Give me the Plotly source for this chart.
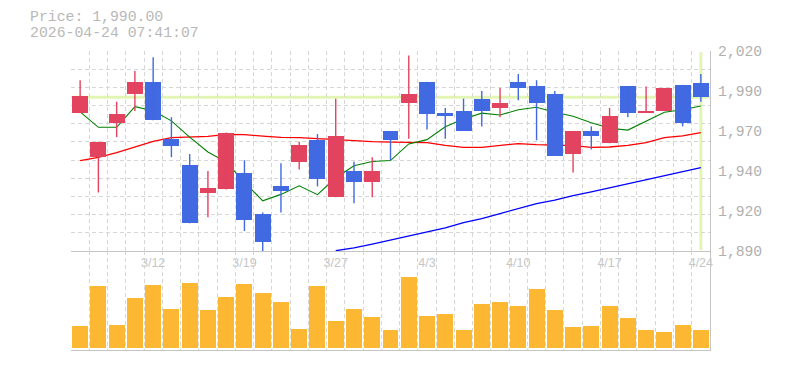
import plotly.graph_objects as go

# ---------------- data ----------------
dates = ["3/6", "3/9", "3/10", "3/11", "3/12", "3/13", "3/16", "3/17", "3/18", "3/19",
         "3/23", "3/24", "3/25", "3/26", "3/27", "3/30", "3/31", "4/1", "4/2", "4/3",
         "4/6", "4/7", "4/8", "4/9", "4/10", "4/13", "4/14", "4/15", "4/16", "4/17",
         "4/20", "4/21", "4/22", "4/23", "4/24"]
opens = [1980, 1951, 1973, 1992, 2000, 1963, 1946, 1928, 1930, 1941,
         1914, 1932, 1948, 1962, 1925, 1942, 1935, 1968, 1986, 2000,
         1980, 1981, 1989, 1983, 2000, 1997, 1992, 1953, 1968, 1960,
         1997, 1980, 1981, 1998, 1999]
highs = [2001, 1961, 1987, 2007, 2016, 1977, 1953, 1942, 1967, 1949,
         1915, 1947, 1961, 1966, 1989, 1948, 1951, 1968, 2017, 2000,
         1983, 1989, 1994, 1996, 2005, 2001, 1994, 1968, 1971, 1983,
         1997, 1997, 1996, 1998, 2005]
lows = [1980, 1928, 1964, 1981, 1975, 1951, 1908, 1912, 1930, 1903,
        1889, 1915, 1943, 1932, 1925, 1921, 1925, 1949, 1963, 1969,
        1963, 1968, 1971, 1977, 1988, 1962, 1952, 1941, 1956, 1960,
        1977, 1980, 1981, 1971, 1987]
closes = [1991, 1961, 1979, 2000, 1975, 1958, 1908, 1931, 1967, 1910,
          1896, 1929, 1959, 1937, 1965, 1935, 1942, 1962, 1992, 1979,
          1978, 1968, 1981, 1986, 1996, 1986, 1952, 1968, 1965, 1978,
          1980, 1981, 1996, 1973, 1990]
volumes = [6700, 18700, 7000, 15100, 19000, 11800, 19600, 11500, 15400, 19300,
           16600, 13900, 5800, 18700, 8200, 11800, 9400, 5500, 21400, 9700,
           10300, 5500, 13300, 13900, 12700, 17800, 11500, 6400, 6700, 12700,
           9100, 5500, 4900, 7000, 5500]
ma5 = [1980.4, 1970.4, 1970.4, 1983.8, 1981.2, 1974.6, 1964.0, 1954.4, 1947.8, 1934.8,
       1922.6, 1926.8, 1932.4, 1926.6, 1937.6, 1945.4, 1948.2, 1948.8, 1959.6, 1962.4,
       1970.8, 1975.8, 1979.6, 1978.4, 1981.8, 1983.4, 1980.2, 1977.6, 1973.4, 1969.8,
       1968.6, 1974.6, 1980.2, 1981.8, 1984.2]
ma25 = [1948.7, 1950.9, 1953.9, 1957.6, 1961.3, 1963.7, 1963.9, 1964.5, 1965.8, 1965.6,
        1964.7, 1963.9, 1963.7, 1963.0, 1962.2, 1961.7, 1961.1, 1960.8, 1960.8, 1960.4,
        1958.7, 1957.4, 1957.4, 1958.7, 1959.8, 1959.1, 1958.7, 1958.5, 1957.4, 1957.6,
        1958.7, 1960.4, 1963.7, 1964.8, 1966.9]
ma75 = [None, None, None, None, None, None, None, None, None, None,
        None, None, None, None, 1890.2, 1892.0, 1894.4, 1897.0, 1899.8, 1902.0,
        1905.0, 1908.5, 1911.0, 1914.3, 1917.5, 1920.8, 1923.0, 1926.0, 1928.4, 1931.0,
        1933.8, 1936.4, 1939.2, 1941.8, 1944.2]
label_dates = ["3/12", "3/19", "3/27", "4/3", "4/10", "4/17", "4/24"]
price_tick_vals = [1890, 1916, 1942, 1968, 1994, 2020]
price_tick_text = ["1,890", "1,920", "1,940", "1,970", "1,990", "2,020"]
header_price = "Price: 1,990.00"
header_time = "2026-04-24 07:41:07"
cursor_price = 1990
cursor_date = "4/24"

# ---------------- style ----------------
UP = "#e2435f"
DOWN = "#4169e1"
VOL = "#fdb833"
GRID = "#d6d6d6"
AXIS = "#c4c4c4"
CROSS = "#e3f5b3"
MONO = "Liberation Mono"
Y_MIN, Y_MAX = 1890, 2020
N = len(dates)
idx = list(range(N))
BODY_W = 0.875
PAGE_OFF = 8  # default body margin of the html page

fig = go.Figure()

# moving averages (main price subplot, below the candles)
fig.add_trace(go.Scatter(x=idx, y=ma75, mode="lines", line=dict(color="#0000ff", width=1.3),
                         xaxis="x", yaxis="y", hoverinfo="skip"))
fig.add_trace(go.Scatter(x=idx, y=ma25, mode="lines", line=dict(color="#ff0000", width=1.3),
                         xaxis="x", yaxis="y", hoverinfo="skip"))
fig.add_trace(go.Scatter(x=idx, y=ma5, mode="lines", line=dict(color="#008000", width=1.1),
                         xaxis="x", yaxis="y", hoverinfo="skip"))

# candles on an overlaying axis so they sit above the MA lines
up = [c >= o for o, c in zip(opens, closes)]
colors = [UP if u else DOWN for u in up]
fig.add_trace(go.Bar(x=idx, y=[abs(c - o) for o, c in zip(opens, closes)],
                     base=[min(o, c) for o, c in zip(opens, closes)],
                     width=BODY_W, marker=dict(color=colors, line=dict(width=0)),
                     xaxis="x", yaxis="y3", hoverinfo="skip"))
for flag, col in ((True, UP), (False, DOWN)):
    wx, wy = [], []
    for i in idx:
        if up[i] == flag:
            wx += [i, i, None]
            wy += [lows[i], highs[i], None]
    fig.add_trace(go.Scatter(x=wx, y=wy, mode="lines", line=dict(color=col, width=1.4),
                             xaxis="x", yaxis="y3", hoverinfo="skip"))

# volume
fig.add_trace(go.Bar(x=idx, y=volumes, width=BODY_W, marker=dict(color=VOL, line=dict(width=0)),
                     xaxis="x2", yaxis="y2", hoverinfo="skip"))

grid_x = [i - 0.5 for i in range(N + 1)]
grid_y = [Y_MIN + (Y_MAX - Y_MIN) * k / 11 for k in range(12)]
label_pos = [dates.index(d) for d in label_dates]
cursor_x = dates.index(cursor_date)

minor_x = dict(tickmode="array", tickvals=grid_x, showgrid=True, gridcolor=GRID,
               griddash="4px,3px", gridwidth=1, ticks="")
PRICE_DOM = [0.3311, 1]

fig.update_layout(
    width=785, height=370,
    margin=dict(l=71 - PAGE_OFF, r=75 + PAGE_OFF, t=51 - PAGE_OFF, b=20 + PAGE_OFF,
                pad=0, autoexpand=False),
    paper_bgcolor="white", plot_bgcolor="white",
    showlegend=False, bargap=0, hovermode=False,
    xaxis=dict(domain=[0, 1], anchor="y", range=[-0.5, N - 0.5], automargin=False,
               tickmode="array", tickvals=label_pos, ticktext=label_dates,
               showgrid=False, zeroline=False, showline=True, linecolor=AXIS, linewidth=1.3,
               ticks="", tickfont=dict(family="Liberation Sans", size=12.5, color="#c6c6c6"),
               minor=minor_x, fixedrange=True),
    yaxis=dict(domain=PRICE_DOM, anchor="x", side="right", range=[Y_MIN, Y_MAX], automargin=False,
               tickmode="array", tickvals=price_tick_vals, ticktext=price_tick_text,
               showgrid=False, zeroline=False, showline=True, linecolor=AXIS, linewidth=1.3,
               ticks="", tickfont=dict(family=MONO, size=14.7, color="#b0b0b0"),
               ticklabelstandoff=4,
               minor=dict(tickmode="array", tickvals=grid_y, showgrid=True, gridcolor=GRID,
                          griddash="4px,3px", gridwidth=1, ticks=""),
               fixedrange=True),
    yaxis3=dict(overlaying="y", anchor="x", side="right", range=[Y_MIN, Y_MAX], automargin=False,
                visible=False, fixedrange=True),
    xaxis2=dict(domain=[0, 1], anchor="y2", range=[-0.5, N - 0.5], showticklabels=False,
                automargin=False,
                showgrid=False, zeroline=False, showline=True, linecolor=AXIS, linewidth=1.3,
                ticks="", minor=minor_x, fixedrange=True),
    yaxis2=dict(domain=[0, PRICE_DOM[0]], anchor="x2", side="right", range=[-510, 29190],
                automargin=False,
                showticklabels=False, showgrid=False, zeroline=False, showline=True,
                linecolor=AXIS, linewidth=1.3, ticks="", fixedrange=True),
    shapes=[
        dict(type="line", xref="x", yref="y", x0=-0.5, x1=N - 0.5, y0=cursor_price, y1=cursor_price,
             line=dict(color=CROSS, width=3), layer="below"),
        dict(type="line", xref="x", yref="y domain", x0=cursor_x, x1=cursor_x, y0=0.005, y1=0.995,
             line=dict(color=CROSS, width=3), layer="below"),
    ],
    annotations=[
        dict(xref="paper", yref="paper", x=(28 - 71) / 639, y=1 + (51 - 17.5) / 299,
             text=header_price, showarrow=False, xanchor="left", yanchor="middle",
             font=dict(family=MONO, size=14.8, color="#b8b8b8")),
        dict(xref="paper", yref="paper", x=(28 - 71) / 639, y=1 + (51 - 33.5) / 299,
             text=header_time, showarrow=False, xanchor="left", yanchor="middle",
             font=dict(family=MONO, size=14.8, color="#b8b8b8")),
    ],
)

fig.write_html("out.html")
